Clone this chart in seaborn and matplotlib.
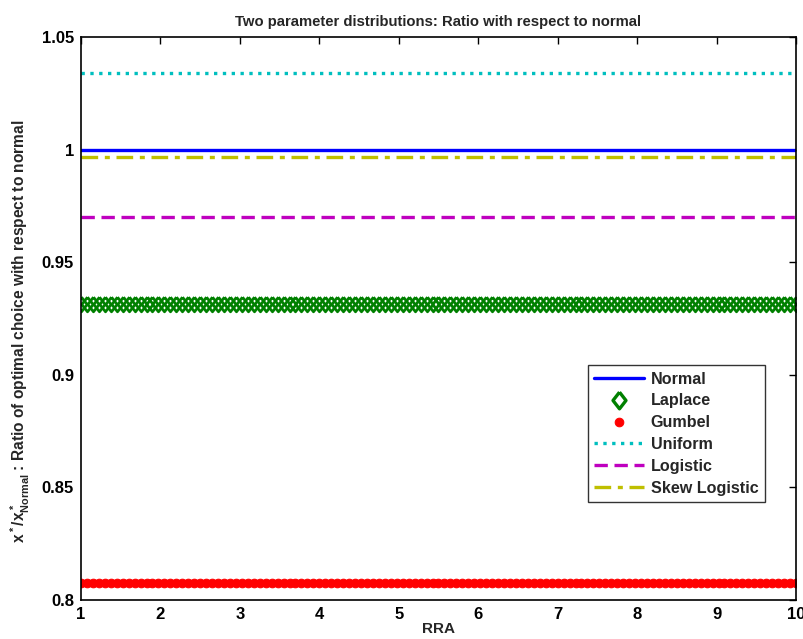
import numpy as np
import pandas as pd
import matplotlib
matplotlib.use("Agg")
import matplotlib.pyplot as plt
import seaborn as sns

sns.set_theme(style="white")
plt.rcParams['font.family'] = ['Liberation Sans', 'DejaVu Sans']
plt.rcParams['font.weight'] = 'bold'
plt.rcParams['mathtext.fontset'] = 'custom'
plt.rcParams['mathtext.rm'] = 'Liberation Sans:bold'
plt.rcParams['mathtext.it'] = 'Liberation Sans:bold'
plt.rcParams['mathtext.bf'] = 'Liberation Sans:bold'

# RRA grid (121 evaluation points from 1 to 10)
rra = np.linspace(1, 10, 121)

series_names = ["Normal", "Laplace", "Gumbel", "Uniform", "Logistic", "Skew Logistic"]
ratio_values = [1.000, 0.9315, 0.8075, 1.034, 0.970, 0.9967]

xticks = [1, 2, 3, 4, 5, 6, 7, 8, 9, 10]
yticks = [0.8, 0.85, 0.9, 0.95, 1.0, 1.05]
ytick_labels = ["0.8", "0.85", "0.9", "0.95", "1", "1.05"]

diamond = [(0, 1), (0.78, 0), (0, -1), (-0.78, 0), (0, 1)]

styles = {
    "Normal": dict(color=(0, 0, 1), linestyle='-', linewidth=2.4),
    "Laplace": dict(color=(0, 0.5, 0), linestyle='', marker=diamond, markersize=10.5,
                    markerfacecolor='none', markeredgecolor=(0, 0.5, 0), markeredgewidth=2.0),
    "Gumbel": dict(color=(1, 0, 0), linestyle='', marker='o', markersize=6.2,
                   markerfacecolor=(1, 0, 0), markeredgecolor=(1, 0, 0)),
    "Uniform": dict(color=(0, 0.75, 0.75), linestyle=':', linewidth=2.4),
    "Logistic": dict(color=(0.75, 0, 0.75), linestyle=(0, (4, 2)), linewidth=2.4),
    "Skew Logistic": dict(color=(0.75, 0.75, 0), linestyle=(0, (5, 2, 1.5, 2)), linewidth=2.4),
}

fig = plt.figure(figsize=(8.04, 6.39), dpi=100)
ax = fig.add_axes([81/804, 1-600/639, (796-81)/804, (600-37)/639])

for name, val in zip(series_names, ratio_values):
    df = pd.DataFrame({"RRA": rra, "ratio": np.full(len(rra), val)})
    sns.lineplot(data=df, x="RRA", y="ratio", ax=ax, label=name, **styles[name])

ax.set_xlim(1, 10)
ax.set_ylim(0.8, 1.05)
ax.set_xticks(xticks)
ax.set_xticklabels([str(t) for t in xticks])
ax.set_yticks(yticks)
ax.set_yticklabels(ytick_labels)
ax.tick_params(direction='in', length=5, width=1, top=True, right=True,
               labelsize=12, pad=5, colors='black')
for lab in ax.get_xticklabels() + ax.get_yticklabels():
    lab.set_fontweight('bold')
for sp in ax.spines.values():
    sp.set_color('black')
    sp.set_linewidth(1.2)

ax.set_title("Two parameter distributions: Ratio with respect to normal",
             fontsize=10.7, fontweight='bold', pad=8)
ax.set_xlabel("RRA", fontsize=11, fontweight='bold', labelpad=0)
ax.set_ylabel(r"$x^*/x^*_{Normal}$ : Ratio of optimal choice with respect to normal",
              fontsize=11.2, fontweight='bold')
ax.yaxis.set_label_coords(-0.068, 0.478)

leg = ax.legend(loc='upper left', bbox_to_anchor=(0.709, 0.417), frameon=True,
                fancybox=False, edgecolor='black', fontsize=11.6, handlelength=3.1,
                borderpad=0.4, labelspacing=0.42, handletextpad=0.4, borderaxespad=0)
leg.get_frame().set_linewidth(1.0)
for t in leg.get_texts():
    t.set_fontweight('bold')
for h in leg.legend_handles:
    if h.get_label() == "Laplace" or getattr(h, "get_marker", lambda: None)() is diamond:
        pass
handles = leg.legend_handles
handles[1].set_markersize(12)
handles[1].set_markeredgewidth(2.4)

fig.savefig("out.png", dpi=100)
